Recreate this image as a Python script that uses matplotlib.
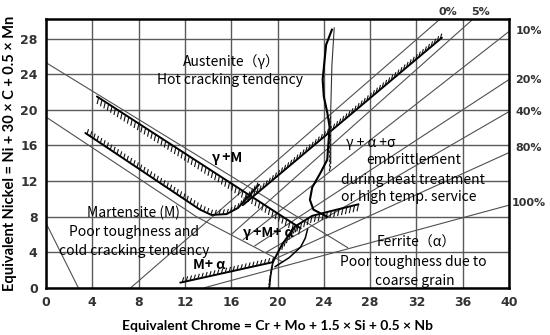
import numpy as np
import matplotlib
matplotlib.use("Agg")
import matplotlib.pyplot as plt

# ---------------- data ----------------
x_ticks = [0, 4, 8, 12, 16, 20, 24, 28, 32, 36, 40]
y_ticks = [0, 4, 8, 12, 16, 20, 24, 28]

# iso-ferrite lines (start -> end)
iso_labels = ['0%', '5%', '10%', '20%', '40%', '80%', '100%']
iso_x0 = [7.3, 16.0, 17.0, 18.0, 19.0, 20.0, 13.6]
iso_y0 = [0.0, 6.0, 5.4, 4.7, 4.0, 3.4, 0.0]
iso_x1 = [34.05, 36.9, 40.0, 40.0, 40.0, 40.0, 40.0]
iso_y1 = [30.2, 30.2, 28.8, 23.4, 19.8, 15.2, 9.3]

# other thin boundary lines
thin_upper_x = [0.0, 26.1]
thin_upper_y = [25.3, 4.5]
thin_lower_x = [0.0, 13.0, 20.5]
thin_lower_y = [19.2, 8.0, 2.9]
corner_x = [0.0, 2.8]
corner_y = [7.3, 0.0]

# thick hatched boundaries
upper_desc_x = [4.4, 22.0]
upper_desc_y = [21.5, 6.7]
lower_v_x = [3.4, 13.3, 14.3, 15.6, 16.6, 18.4]
lower_v_y = [17.4, 8.8, 8.2, 8.3, 9.0, 11.6]
aust_x = [17.0, 34.2]
aust_y = [9.3, 28.1]
m_alpha_x = [11.6, 19.6]
m_alpha_y = [0.6, 2.9]
ferr_x = [19.6, 20.4, 21.5, 23.0, 24.5, 27.0]
ferr_y = [2.9, 4.9, 6.9, 8.1, 8.6, 9.4]
lens_x = [19.8, 21.0, 22.0, 22.4, 22.6]
lens_y = [2.4, 3.4, 4.6, 5.6, 6.6]
foot_x = [19.6, 19.4, 19.3]
foot_y = [2.9, 1.3, 0.0]

# hot cracking curve
crack_x = [24.7, 24.2, 23.9, 24.0, 24.3, 24.5, 24.3, 23.7, 23.0, 22.8, 23.1, 24.3]
crack_y = [29.0, 27.3, 23.4, 21.5, 19.7, 18.1, 14.4, 12.9, 11.3, 9.9, 8.8, 8.0]
crack2_x = [24.9, 24.7, 24.6, 24.6]
crack2_y = [29.2, 25.0, 20.0, 14.0]

# region texts
region_text = ['Austenite（γ）', 'Hot cracking tendency', 'γ +M',
               'γ + α +σ', 'embrittlement', 'during heat treatment',
               'or high temp. service', 'Martensite (M)', 'Poor toughness and',
               'cold cracking tendency', 'γ +M+ α', 'M+ α', 'Ferrite（α）',
               'Poor toughness due to', 'coarse grain']
region_bold = [False, False, True, False, False, False, False, False, False,
               False, True, True, False, False, False]
region_x = [11.8, 9.6, 14.3, 25.9, 27.7, 25.5, 25.5, 3.5, 2.0, 1.1, 16.9,
            12.7, 28.6, 25.4, 28.4]
region_y = [25.4, 23.3, 14.6, 16.3, 14.4, 12.1, 10.2, 8.4, 6.3, 4.2, 6.2,
            2.6, 5.1, 2.9, 0.8]

# percentage label positions
pct_x = [34.7, 37.5, 41.7, 41.7, 41.7, 41.7, 41.7]
pct_y = [31.0, 31.0, 28.8, 23.4, 19.8, 15.7, 9.55]

# ---------------- figure ----------------
fig = plt.figure(figsize=(5.5, 3.35), dpi=100)
ax = fig.add_axes([46 / 550, 47 / 335, 463 / 550, 269 / 335])
ax.set_xlim(0, 40)
ax.set_ylim(0, 30.2)

ax.set_xticks(x_ticks)
ax.set_yticks(y_ticks)
ax.tick_params(length=0, pad=6, labelsize=9, colors='#333333')
for lab in ax.get_xticklabels() + ax.get_yticklabels():
    lab.set_fontweight('bold')
ax.grid(True, color='#5a5a5a', lw=1.0)
ax.set_axisbelow(True)
for s in ax.spines.values():
    s.set_linewidth(1.8)
    s.set_color('black')

THIN = dict(color='#505050', lw=0.8, solid_capstyle='butt')
THICK = dict(color='black', lw=1.4, solid_capstyle='round')

for i in range(len(iso_labels)):
    ax.plot([iso_x0[i], iso_x1[i]], [iso_y0[i], iso_y1[i]], **THIN)
ax.plot(thin_upper_x, thin_upper_y, **THIN)
ax.plot(thin_lower_x, thin_lower_y, **THIN)
ax.plot(corner_x, corner_y, **THIN)

fig.canvas.draw()
to_disp = ax.transData.transform
to_data = ax.transData.inverted().transform


def hatch(xs, ys, side=1, spacing=4.0, length=6.0, lw=0.8, slant=1.5):
    pts = to_disp(np.column_stack([xs, ys]))
    seg = np.diff(pts, axis=0)
    d = np.concatenate([[0], np.cumsum(np.hypot(seg[:, 0], seg[:, 1]))])
    s = np.arange(spacing / 2, d[-1], spacing)
    px = np.interp(s, d, pts[:, 0])
    py = np.interp(s, d, pts[:, 1])
    for a, b in zip(px, py):
        p = to_data([[a, b], [a + slant * side, b + length * side]])
        ax.plot(p[:, 0], p[:, 1], color='#111111', lw=lw, solid_capstyle='butt')


ax.plot(upper_desc_x, upper_desc_y, **THICK)
hatch(upper_desc_x, upper_desc_y, side=-1, length=6.5)
ax.plot(lower_v_x, lower_v_y, **THICK)
hatch(lower_v_x, lower_v_y, side=1, length=5)
ax.plot(aust_x, aust_y, **THICK)
hatch(aust_x, aust_y, side=1, length=5.5)
ax.plot(m_alpha_x, m_alpha_y, **THICK)
hatch(m_alpha_x, m_alpha_y, side=1, length=5)
ax.plot(ferr_x, ferr_y, **THICK)
hatch(ferr_x[1:], ferr_y[1:], side=-1, length=7)
ax.plot(lens_x, lens_y, color='black', lw=1.1)
ax.plot(foot_x, foot_y, color='black', lw=1.1)
hatch(foot_x, foot_y, side=-1, length=5)

ax.plot(crack_x, crack_y, color='black', lw=1.5)
ax.plot(crack2_x, crack2_y, color='#333333', lw=0.8)
hatch([24.6, 24.6], [19.5, 13.5], side=-1, spacing=4.5, length=5)

for t, x, y, b in zip(region_text, region_x, region_y, region_bold):
    ax.text(x, y, t, family=['Noto Sans CJK JP', 'DejaVu Sans'], fontsize=10,
            fontweight='bold' if b else 'normal', color='black',
            va='center', ha='left')

for t, x, y in zip(iso_labels, pct_x, pct_y):
    ax.text(x, y, t, fontsize=8, fontweight='bold', color='#333333',
            ha='center', va='center', clip_on=False)

ax.set_xlabel('Equivalent Chrome = Cr + Mo + 1.5 × Si + 0.5 × Nb',
              family='Lato', fontweight='bold', fontsize=10, labelpad=8)
ax.set_ylabel('Equivalent Nickel = Ni + 30 × C + 0.5 × Mn',
              family='Lato', fontweight='bold', fontsize=10.5, labelpad=2)

fig.savefig('out.png', dpi=100)
